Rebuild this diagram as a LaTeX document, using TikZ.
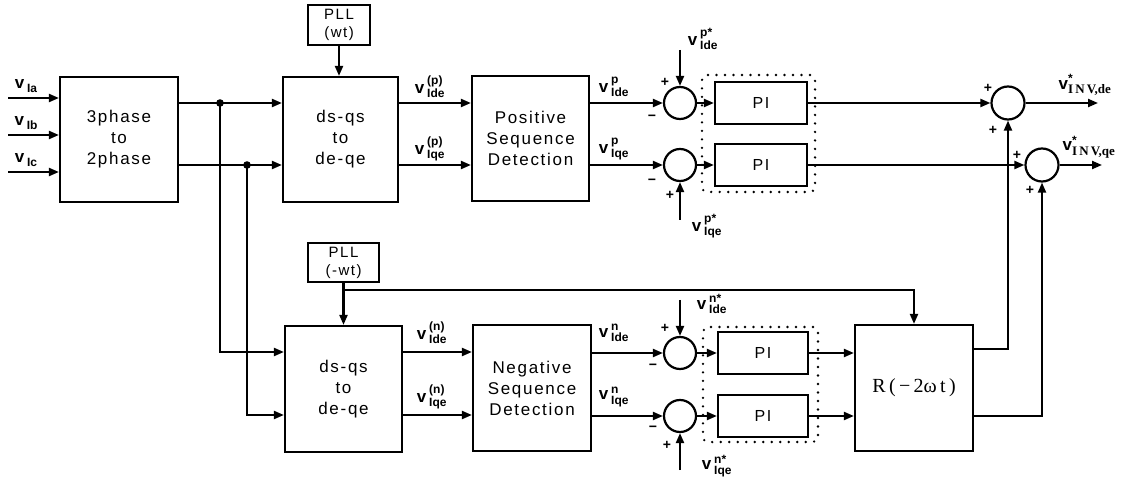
\documentclass[tikz,border=0pt]{standalone}
\usepackage{fontspec}
\setmainfont{Liberation Sans}
\newfontfamily\boxfont[LetterSpace=10]{Liberation Sans}
\newfontfamily\rfont{Liberation Serif}
\usetikzlibrary{arrows.meta}
\newcommand\vlabss[2]{$\mbox{v\,}^{\mbox{\fontsize{12}{12}\selectfont #1}}_{\mbox{\fontsize{12}{12}\selectfont #2}}$}
\newcommand\vlabsb[1]{v\,\raisebox{-4pt}{\fontsize{12}{12}\selectfont #1}}
\newcommand\vlabinv[1]{$\mbox{v}^{\mbox{\fontsize{12}{12}\selectfont *}}_{\mbox{\rfont\fontsize{13}{13}\selectfont I\,N\,V,#1}}$}
\begin{document}
\begin{tikzpicture}[x=1pt,y=-1pt,
  every node/.style={inner sep=0pt},
  wire/.style={line width=2.1pt},
  arr/.style={wire,-{Triangle[length=10pt,width=8pt]}},
  blk/.style={draw,line width=2.2pt,align=center,font=\boxfont\fontsize{17}{21}\selectfont},
  pll/.style={draw,line width=2.2pt,align=center,font=\boxfont\fontsize{15}{18}\selectfont},
  pib/.style={draw,line width=2.2pt,font=\boxfont\fontsize{16}{18}\selectfont,minimum width=92pt,minimum height=42pt},
  sumc/.style={draw,circle,line width=2.2pt,minimum size=32pt},
  dotbox/.style={draw,line width=2.6pt,dash pattern=on 0pt off 8.5pt,line cap=round,rounded corners=5pt,minimum width=#1},
  lab/.style={font=\fontsize{17}{20}\selectfont\bfseries},
  sgn/.style={font=\fontsize{14}{14}\selectfont\bfseries}]
\useasboundingbox (0,0) rectangle (1127,486);

% blocks
\node[blk,minimum width=118pt,minimum height=125pt] (tp) at (119,139.5) {3phase\\to\\2phase};
\node[blk,minimum width=115pt,minimum height=125pt] (dq1) at (340.5,139.5) {ds-qs\\to\\de-qe};
\node[pll,minimum width=62pt,minimum height=40pt] (pll1) at (339,25) {PLL\\(wt)};
\node[blk,minimum width=117pt,minimum height=125pt] (pos) at (530.5,138.5) {Positive\\Sequence\\Detection};
\node[sumc] (s1) at (680,103) {};
\node[sumc] (s2) at (680,165) {};
\node[pib] (pi1) at (761,103) {PI};
\node[pib] (pi2) at (761,165) {PI};
\node[dotbox=113pt,minimum height=117pt] (db1) at (758.5,133.5) {};
\node[sumc,minimum size=33pt] (so1) at (1008,103) {};
\node[sumc,minimum size=33pt] (so2) at (1042,165) {};

\node[pll,minimum width=71pt,minimum height=39pt] (pll2) at (343.5,262.5) {PLL\\(-wt)};
\node[blk,minimum width=117pt,minimum height=126pt] (dq2) at (343.5,389) {ds-qs\\to\\de-qe};
\node[blk,minimum width=118pt,minimum height=126pt] (neg) at (532,388) {Negative\\Sequence\\Detection};
\node[sumc] (s3) at (680,353) {};
\node[sumc] (s4) at (680,416) {};
\node[pib,minimum width=90pt] (pi3) at (763,353) {PI};
\node[pib,minimum width=90pt] (pi4) at (763,416) {PI};
\node[dotbox=115pt,minimum height=115pt] (db2) at (760.5,384.5) {};
\node[blk,minimum width=118pt,minimum height=126pt,font=\rfont\fontsize{20}{24}\selectfont] (R) at (914,388) {R\,(\,−\,2ω\,t\,)};

% coordinates
\coordinate (ia) at (8,98);
\coordinate (ib) at (8,135);
\coordinate (ic) at (8,172);
\coordinate (j1) at (220,103);
\coordinate (j2) at (247,165);
\coordinate (k1) at (220,352);
\coordinate (k2) at (247,415);
\coordinate (r1) at (680,50);
\coordinate (r2) at (680,220);
\coordinate (r3) at (680,300);
\coordinate (r4) at (680,470);
\coordinate (o1) at (1098,103);
\coordinate (o2) at (1102,165);
\coordinate (br) at (343.5,290);

% inputs
\draw[arr] (ia) -- (ia -| tp.west);
\draw[arr] (ib) -- (ib -| tp.west);
\draw[arr] (ic) -- (ic -| tp.west);
% 3phase to ds-qs
\draw[arr] (j1 -| tp.east) -- (j1 -| dq1.west);
\draw[arr] (j2 -| tp.east) -- (j2 -| dq1.west);
\fill (j1) circle (3.8pt);
\fill (j2) circle (3.8pt);
\draw[arr] (j1) |- (k1 -| dq2.west);
\draw[arr] (j2) |- (k2 -| dq2.west);
% PLLs
\draw[arr] (pll1.south) -- (pll1.south |- dq1.north);
\draw[arr] (pll2.south) -- (pll2.south |- dq2.north);
\draw[arr] (br) -| (R.north);
% top chain
\draw[arr] (j1 -| dq1.east) -- (j1 -| pos.west);
\draw[arr] (j2 -| dq1.east) -- (j2 -| pos.west);
\draw[arr] (s1 -| pos.east) -- (s1.west);
\draw[arr] (s2 -| pos.east) -- (s2.west);
\draw[arr] (r1) -- (s1.north);
\draw[arr] (r2) -- (s2.south);
\draw[arr] (s1.east) -- (pi1.west);
\draw[arr] (s2.east) -- (pi2.west);
\draw[arr] (pi1.east) -- (so1.west);
\draw[arr] (pi2.east) -- (so2.west);
\draw[arr] (so1.east) -- (o1);
\draw[arr] (so2.east) -- (o2);
% bottom chain
\draw[arr] (k1 -| dq2.east) -- (k1 -| neg.west);
\draw[arr] (k2 -| dq2.east) -- (k2 -| neg.west);
\draw[arr] (s3 -| neg.east) -- (s3.west);
\draw[arr] (s4 -| neg.east) -- (s4.west);
\draw[arr] (r3) -- (s3.north);
\draw[arr] (r4) -- (s4.south);
\draw[arr] (s3.east) -- (pi3.west);
\draw[arr] (s4.east) -- (pi4.west);
\draw[arr] (pi3.east) -- (pi3 -| R.west);
\draw[arr] (pi4.east) -- (pi4 -| R.west);
\draw[arr] ([yshift=39pt]R.east) -| (so1.south);
\draw[arr] ([yshift=-28pt]R.east) -| (so2.south);

% labels
\node[lab] (la) at (26,86) {\vlabsb{Ia}};
\node[lab] (lb) at (26,123) {\vlabsb{Ib}};
\node[lab] (lc) at (26,160) {\vlabsb{Ic}};
\node[lab] (l1) at (430,87) {\vlabss{(p)}{Ide}};
\node[lab] (l2) at (430,149) {\vlabss{(p)}{Iqe}};
\node[lab] (l3) at (614,87) {\vlabss{p}{Ide}};
\node[lab] (l4) at (614,149) {\vlabss{p}{Iqe}};
\node[lab] (l5) at (703,39) {\vlabss{p*}{Ide}};
\node[lab] (l6) at (707,226) {\vlabss{p*}{Iqe}};
\node[lab] (l7) at (1085,85) {\vlabinv{de}};
\node[lab] (l8) at (1089,147) {\vlabinv{qe}};
\node[lab] (l9) at (432,333) {\vlabss{(n)}{Ide}};
\node[lab] (l10) at (432,397) {\vlabss{(n)}{Iqe}};
\node[lab] (l11) at (614,333) {\vlabss{n}{Ide}};
\node[lab] (l12) at (614,397) {\vlabss{n}{Iqe}};
\node[lab] (l13) at (712,304) {\vlabss{n*}{Ide}};
\node[lab] (l14) at (717,466) {\vlabss{n*}{Iqe}};

% signs
\node[sgn] (g1) at (665,82) {+};
\node[sgn] (g2) at (652,118) {−};
\node[sgn] (g3) at (652,182) {−};
\node[sgn] (g4) at (670,195) {+};
\node[sgn] (g5) at (665,328) {+};
\node[sgn] (g6) at (653,367) {−};
\node[sgn] (g7) at (653,429) {−};
\node[sgn] (g8) at (667,445) {+};
\node[sgn] (g9) at (988,88) {+};
\node[sgn] (g10) at (993,130) {+};
\node[sgn] (g11) at (1017,155) {+};
\node[sgn] (g12) at (1030,190) {+};
\end{tikzpicture}
\end{document}
